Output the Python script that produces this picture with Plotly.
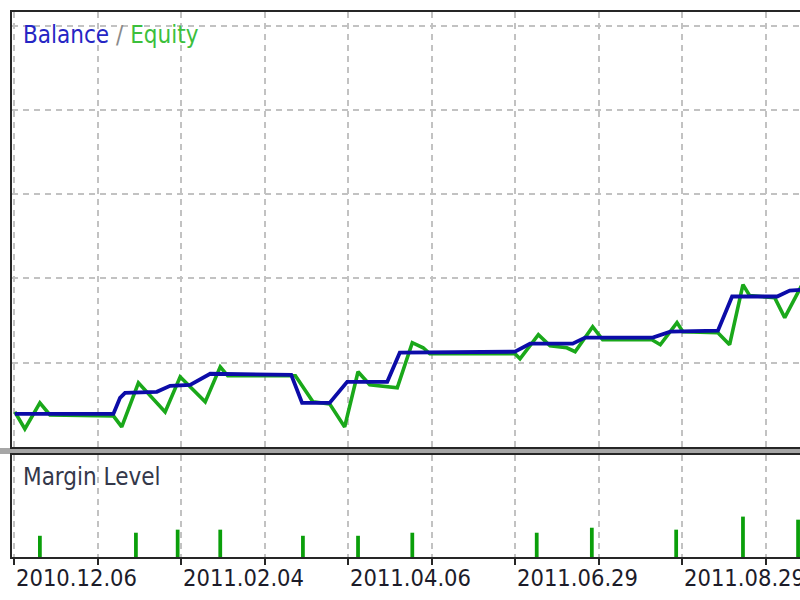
import plotly.graph_objects as go

# trade index (x) and account values
balance_x = [0.1, 11.9, 12.7, 13.3, 17.1, 18.7, 21.1, 23.5, 33.2, 34.5, 37.8, 39.9,
             44.7, 46.2, 60.0, 61.8, 66.9, 68.4, 76.5, 78.6, 84.3, 86.0, 91.4, 92.9, 94.7]
balance_y = [10393, 10393, 10583, 10643, 10655, 10726, 10738, 10869, 10857, 10524, 10524,
             10774, 10774, 11119, 11131, 11226, 11226, 11298, 11298, 11369, 11381, 11786,
             11786, 11857, 11869]

equity_x = [0.1, 1.3, 3.1, 4.3, 11.9, 12.9, 14.9, 18.1, 19.9, 22.9, 24.7, 25.6, 33.7,
            35.8, 37.8, 39.6, 41.2, 42.6, 45.9, 47.7, 49.0, 49.8, 60.0, 60.6, 62.8, 64.2,
            66.2, 67.2, 69.3, 70.5, 76.4, 77.4, 79.4, 80.1, 84.3, 85.7, 87.3, 88.1, 91.1,
            92.3, 94.7]
equity_y = [10417, 10214, 10524, 10381, 10369, 10238, 10762, 10417, 10833, 10536, 10952,
            10845, 10845, 10536, 10512, 10238, 10893, 10738, 10702, 11238, 11178, 11107,
            11107, 11047, 11333, 11202, 11178, 11131, 11428, 11273, 11273, 11214, 11476,
            11369, 11357, 11214, 11928, 11797, 11773, 11535, 11987]

margin_x = [3.1, 14.6, 19.6, 24.7, 34.6, 41.2, 47.7, 62.6, 69.2, 79.3, 87.3, 93.9]
margin_y = [1040, 1190, 1340, 1340, 1040, 1040, 1190, 1190, 1435, 1340, 1980, 1830]

date_ticks = [0, 20, 40, 60, 80]
date_labels = ["2010.12.06", "2011.02.04", "2011.04.06", "2011.06.29", "2011.08.29"]

W, H = 800, 600
FONT = "DejaVu Sans Condensed, DejaVu Sans, Liberation Sans, sans-serif"
GRID = "#c2c2c2"
DARK = "#262626"


def py(px):
    return 1 - px / H


fig = go.Figure()
fig.add_trace(go.Scatter(x=equity_x, y=equity_y, mode="lines",
                         line=dict(color="#1aa81a", width=3.6), xaxis="x", yaxis="y"))
fig.add_trace(go.Scatter(x=balance_x, y=balance_y, mode="lines",
                         line=dict(color="#0c0ca8", width=3.8), xaxis="x", yaxis="y"))
fig.add_trace(go.Bar(x=margin_x, y=margin_y, width=0.45, marker=dict(color="#0a9f0a", line_width=0),
                     xaxis="x2", yaxis="y2"))

xrange = [-0.24, 94.13]
common_x = dict(range=xrange, showgrid=True, gridcolor=GRID, griddash="6px,5px", gridwidth=1.5,
                tick0=0, dtick=10, zeroline=False, showline=True, linecolor=DARK, linewidth=2,
                mirror=True)

fig.update_layout(
    width=W, height=H,
    margin=dict(l=0, r=0, t=0, b=0),
    paper_bgcolor="white", plot_bgcolor="white",
    showlegend=False,
    xaxis=dict(domain=[12 / W, 1], anchor="y", showticklabels=False, ticks="", **common_x),
    yaxis=dict(domain=[py(447), py(12)], range=[10000, 15163], tick0=10000, dtick=1000,
               showgrid=True, gridcolor=GRID, griddash="6px,5px", gridwidth=1.5,
               zeroline=False, showticklabels=False, showline=True, linecolor=DARK,
               linewidth=2, anchor="x"),
    xaxis2=dict(domain=[12 / W, 1], anchor="y2", showticklabels=False, ticks="outside",
                ticklen=6, tickwidth=2, tickcolor=DARK, **common_x),
    yaxis2=dict(domain=[py(557), py(455)], range=[0, 5000], showgrid=False,
                zeroline=False, showticklabels=False, showline=True, linecolor=DARK,
                linewidth=2, anchor="x2"),
)

# grey splitter between the two panes
fig.add_shape(type="rect", xref="paper", yref="paper", x0=0, x1=1, y0=py(454), y1=py(448),
              fillcolor="#a6a6a6", line_width=0, layer="below")

fig.add_annotation(
    xref="paper", yref="paper", x=21 / W, y=py(35), xanchor="left", yanchor="middle",
    showarrow=False,
    text="<span style='color:#2626c4'>Balance</span> <span style='color:#8a8a8a'>/</span> "
         "<span style='color:#3cbf3c'>Equity</span>",
    font=dict(family=FONT, size=24),
)
fig.add_annotation(
    xref="paper", yref="paper", x=21 / W, y=py(477), xanchor="left", yanchor="middle",
    showarrow=False, text="Margin Level", font=dict(family=FONT, size=24, color="#34384a"),
)

for tick, label in zip(date_ticks, date_labels):
    fig.add_annotation(
        xref="x2", yref="paper", x=tick, y=py(578), xanchor="left", yanchor="middle",
        xshift=0, showarrow=False, text=label, font=dict(family=FONT, size=23.5, color="#1c1c2a"),
    )

fig.write_html("out.html", config={"displayModeBar": False},
               post_script="document.body.style.margin='0px';")
